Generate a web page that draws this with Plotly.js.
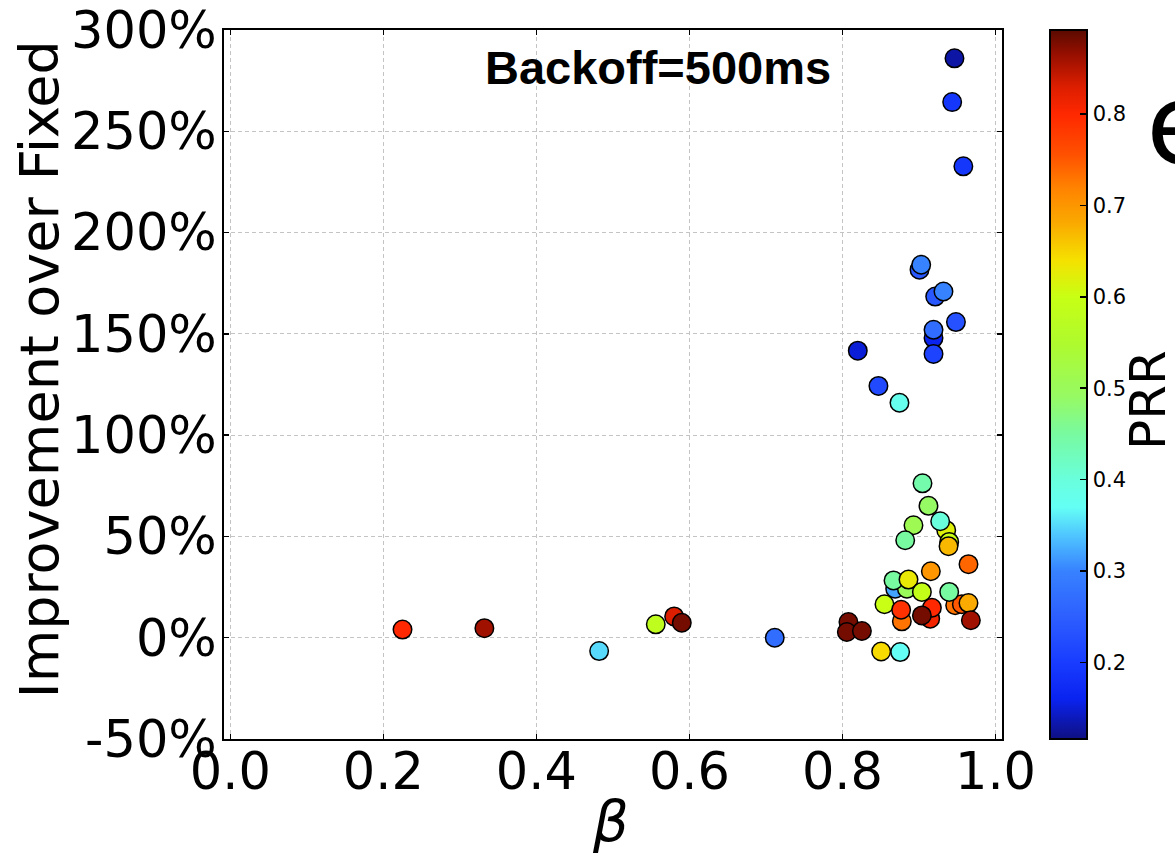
<!DOCTYPE html>
<html><head><meta charset="utf-8">
<script src="https://cdn.plot.ly/plotly-3.0.1.min.js"></script>
<style>html,body{margin:0;padding:0;background:#fff}#chart{width:1175px;height:854px}</style>
</head><body><div id="chart"></div>
<script>
// beta values (x)
const beta = [
  0.225, 0.332, 0.482, 0.556, 0.580, 0.590, 0.7115,
  0.9007, 0.9029, 0.9212, 0.932, 0.919, 0.919, 0.919, 0.9483, 0.820, 0.847, 0.8745, 0.958, 0.9434, 0.9464,
  0.8689, 0.8842, 0.9356, 0.9395, 0.8776, 0.9147, 0.9169, 0.9473, 0.956, 0.9647, 0.9678,
  0.9046, 0.9124, 0.8928, 0.9277, 0.9386, 0.882, 0.9647, 0.9155, 0.8667, 0.8863, 0.9038, 0.9395,
  0.8549, 0.8767, 0.9038, 0.8078, 0.8057, 0.8254, 0.8506, 0.8754
];
// Improvement over Fixed (%)
const improvement = [
  4.0, 4.7, -6.6, 6.6, 10.5, 7.4, 0.0,
  181.7, 184.1, 168.4, 170.9, 147.9, 140.1, 152.0, 155.8, 141.7, 124.3, 116.0, 232.7, 264.4, 286.0,
  24.2, 24.2, 53.1, 47.3, 8.1, 9.4, 14.8, 16.0, 16.5, 17.1, 8.6,
  76.2, 65.1, 55.5, 57.5, 45.2, 48.1, 36.3, 32.8, 28.3, 28.7, 22.6, 22.6,
  16.5, 13.8, 11.0, 7.7, 2.8, 3.3, -6.8, -7.1
];
// PRR (colour)
const prr = [
  0.80, 0.86, 0.35, 0.58, 0.83, 0.88, 0.27,
  0.24, 0.30, 0.24, 0.30, 0.16, 0.21, 0.27, 0.23, 0.15, 0.22, 0.38, 0.19, 0.19, 0.13,
  0.32, 0.50, 0.62, 0.60, 0.73, 0.81, 0.80, 0.73, 0.75, 0.68, 0.86,
  0.44, 0.49, 0.51, 0.40, 0.67, 0.45, 0.74, 0.70, 0.45, 0.63, 0.59, 0.45,
  0.60, 0.79, 0.88, 0.88, 0.88, 0.88, 0.645, 0.37
];
const xTickVals = [0, 0.2, 0.4, 0.6, 0.8, 1.0];
const xTickText = ["0.0", "0.2", "0.4", "0.6", "0.8", "1.0"];
const yTickVals = [-50, 0, 50, 100, 150, 200, 250, 300];
const yTickText = ["-50%", "0%", "50%", "100%", "150%", "200%", "250%", "300%"];
const cbTickVals = [0.2, 0.3, 0.4, 0.5, 0.6, 0.7, 0.8];
const cbTickText = ["0.2", "0.3", "0.4", "0.5", "0.6", "0.7", "0.8"];

const colorscale = [
  [0.000, 'rgb(15,15,130)'],
  [0.057, 'rgb(10,35,240)'],
  [0.108, 'rgb(25,60,255)'],
  [0.173, 'rgb(45,95,255)'],
  [0.237, 'rgb(55,130,255)'],
  [0.289, 'rgb(80,200,255)'],
  [0.327, 'rgb(100,255,245)'],
  [0.366, 'rgb(105,255,220)'],
  [0.430, 'rgb(120,250,160)'],
  [0.482, 'rgb(150,250,100)'],
  [0.559, 'rgb(175,250,45)'],
  [0.624, 'rgb(200,255,20)'],
  [0.675, 'rgb(245,225,0)'],
  [0.727, 'rgb(250,170,0)'],
  [0.778, 'rgb(255,130,0)'],
  [0.825, 'rgb(255,80,0)'],
  [0.881, 'rgb(255,40,0)'],
  [0.920, 'rgb(220,30,0)'],
  [0.966, 'rgb(150,15,0)'],
  [1.000, 'rgb(90,10,0)']
];

const FONT = 'DejaVu Sans, sans-serif';

const trace = {
  type: 'scatter', mode: 'markers',
  x: beta, y: improvement,
  marker: {
    size: 18.5, symbol: 'circle',
    color: prr, colorscale: colorscale, cmin: 0.116, cmax: 0.892,
    line: {color: '#000', width: 1.5},
    colorbar: {
      thickness: 37, thicknessmode: 'pixels',
      len: 709, lenmode: 'pixels',
      x: 1.0617, xanchor: 'left', xref: 'paper',
      y: 0.5, yanchor: 'middle',
      xpad: 0, ypad: 0, borderwidth: 0,
      outlinewidth: 2, outlinecolor: '#000',
      ticks: 'inside', ticklen: 8, tickwidth: 1.5, tickcolor: '#000',
      tickmode: 'array', tickvals: cbTickVals, ticktext: cbTickText,
      tickfont: {family: FONT, size: 21, color: '#000'},
      title: {text: ''}
    }
  },
  hoverinfo: 'skip'
};

const axisCommon = {
  ticks: 'inside', ticklen: 5, tickwidth: 1.5, tickcolor: '#000',
  showline: true, linewidth: 2, linecolor: '#000', mirror: 'ticks',
  showgrid: true, gridcolor: '#c4c4c4', gridwidth: 1, griddash: '4px,3px',
  zeroline: false, tickmode: 'array',
  tickfont: {family: FONT, size: 51, color: '#000'}
};

const layout = {
  width: 1175, height: 854,
  margin: {l: 224, r: 173, t: 30, b: 115, pad: 0},
  paper_bgcolor: '#fff', plot_bgcolor: '#fff',
  showlegend: false,
  xaxis: Object.assign({}, axisCommon, {
    range: [-0.0083, 1.0085], tickvals: xTickVals, ticktext: xTickText,
    ticklabelstandoff: -13
  }),
  yaxis: Object.assign({}, axisCommon, {
    range: [-50, 300], tickvals: yTickVals, ticktext: yTickText,
    ticklabelstandoff: -5
  }),
  annotations: [
    {text: 'Backoff=500ms', xref: 'paper', yref: 'paper', x: 0.5578, y: 0.947,
     xanchor: 'center', yanchor: 'middle', showarrow: false,
     font: {family: 'Liberation Sans, Arial, sans-serif', size: 47, color: '#000', weight: 'bold'}},
    {text: 'Improvement over Fixed', xref: 'paper', yref: 'paper', x: -0.2361, y: 0.522,
     xanchor: 'center', yanchor: 'middle', showarrow: false, textangle: -90,
     font: {family: FONT, size: 54, color: '#000'}},
    {text: 'β', xref: 'paper', yref: 'paper', x: 0.4974, y: -0.117,
     xanchor: 'center', yanchor: 'middle', showarrow: false,
     font: {family: FONT, size: 56, color: '#000', style: 'italic'}},
    {text: 'PRR', xref: 'paper', yref: 'paper', x: 1.1875, y: 0.478,
     xanchor: 'center', yanchor: 'middle', showarrow: false, textangle: -90,
     font: {family: FONT, size: 50, color: '#000'}},
    {text: 'e', xref: 'paper', yref: 'paper', x: 1.1825, y: 0.867,
     xanchor: 'left', yanchor: 'middle', showarrow: false,
     font: {family: FONT, size: 113, color: '#000'}}
  ]
};

Plotly.newPlot('chart', [trace], layout, {displayModeBar: false, staticPlot: true});
</script>
</body></html>
